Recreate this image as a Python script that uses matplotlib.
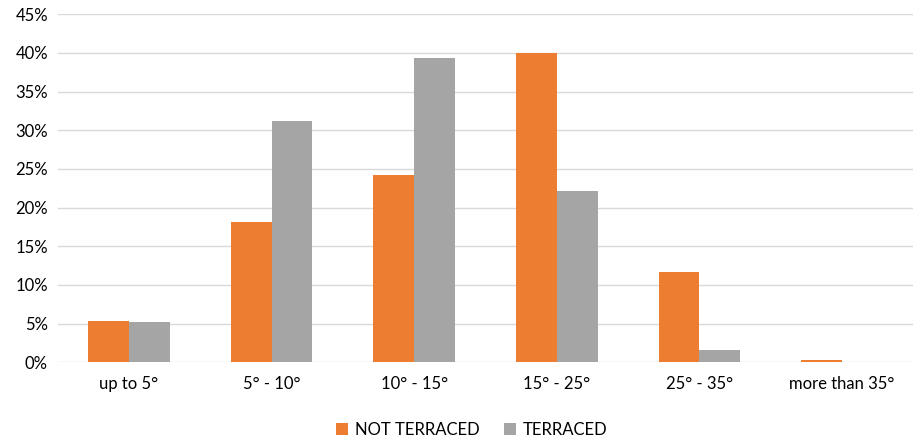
import matplotlib.pyplot as plt
import numpy as np
from matplotlib.ticker import PercentFormatter

categories = ['up to 5°', '5° - 10°', '10° - 15°', '15° - 25°', '25° - 35°', 'more than 35°']
not_terraced = [5.4, 18.1, 24.2, 40.0, 11.7, 0.3]
terraced = [5.2, 31.2, 39.4, 22.2, 1.55, 0.0]

plt.rcParams['font.family'] = ['Lato', 'DejaVu Sans']
plt.rcParams['font.size'] = 12

fig = plt.figure(figsize=(9.16, 4.44), dpi=100)
ax = fig.add_axes([0.063, 0.184, 0.934, 0.784])

x = np.arange(len(categories))
w = 1 / 3.5
ax.bar(x - w / 2, not_terraced, w, color='#ED7D31', label='NOT TERRACED', zorder=3)
ax.bar(x + w / 2, terraced, w, color='#A5A5A5', label='TERRACED', zorder=3)

ax.set_xlim(-0.5, len(categories) - 0.5)
ax.set_ylim(0, 45)
ax.set_yticks(np.arange(0, 46, 5))
ax.yaxis.set_major_formatter(PercentFormatter(decimals=0))
ax.set_xticks(x)
ax.set_xticklabels(categories)
ax.tick_params(length=0, colors='#000000', labelsize=12)
ax.tick_params(axis='y', pad=7)
ax.tick_params(axis='x', pad=10)
ax.grid(axis='y', color='#D9D9D9', linewidth=1, zorder=0)
for s in ax.spines.values():
    s.set_visible(False)

fig.legend(loc='lower center', ncol=2, frameon=False, bbox_to_anchor=(0.515, -0.02),
           handlelength=0.7, handleheight=0.7, handletextpad=0.4, columnspacing=1.5,
           fontsize=12)

fig.savefig('out.png', dpi=100)
